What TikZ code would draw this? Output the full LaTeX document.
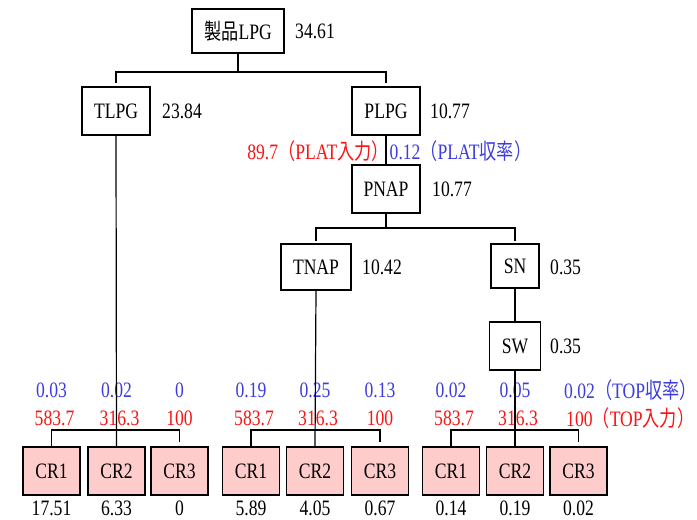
\documentclass[tikz,border=0pt]{standalone}
\usepackage{fontspec}
\setmainfont{Liberation Serif}[FakeStretch=0.8]
\newfontfamily\cjk{Noto Sans CJK JP}[FakeStretch=0.78]
\usetikzlibrary{calc}
\definecolor{myblue}{RGB}{60,60,225}
\definecolor{myred}{RGB}{250,20,20}
\definecolor{pinkfill}{RGB}{255,204,204}
\begin{document}
\begin{tikzpicture}[x=1pt,y=-1pt,font=\fontsize{22}{25}\selectfont,
  box/.style={draw,line width=1.3pt,inner sep=0pt,minimum height=48pt},
  crbox/.style={box,fill=pinkfill,minimum width=57pt},
  val/.style={anchor=west,inner sep=0pt},
  bl/.style={text=myblue,inner sep=0pt},
  rd/.style={text=myred,inner sep=0pt},
  ln/.style={line width=1.2pt}]
\useasboundingbox[fill=white] (0,0) rectangle (697,520);

% upper tree
\node[box,minimum width=92pt,minimum height=44pt] (top) at (238,31) {{\cjk 製品}LPG};
\node[val] (vtop) at (295,31) {34.61};
\node[box,minimum width=68pt] (tlpg) at (116,111) {TLPG};
\node[val] (vtlpg) at (162,111) {23.84};
\node[box,minimum width=68pt] (plpg) at (386,111) {PLPG};
\node[val] (vplpg) at (430,111) {10.77};
\node[box,minimum width=68pt] (pnap) at (386,189) {PNAP};
\node[val] (vpnap) at (432,189) {10.77};
\node[box,minimum width=70pt,minimum height=46pt] (tnap) at (316,267) {TNAP};
\node[val] (vtnap) at (362,267) {10.42};
\node[box,minimum width=48pt,minimum height=44pt] (sn) at (515,266) {SN};
\node[val] (vsn) at (550,267) {0.35};
\node[box,minimum width=51pt] (sw) at (515,346) {SW};
\node[val] (vsw) at (550,346) {0.35};

\node[rd,anchor=east] (platin) at (389,151) {89.7{\cjk （}PLAT{\cjk 入力）}};
\node[bl,anchor=west] (platy) at (389.5,151) {0.12{\cjk （}PLAT{\cjk 収率）}};

\coordinate (j1) at (238,72);
\coordinate (j2) at (386,228);
\draw[ln] (top.south) -- (j1);
\draw[ln] ([yshift=3pt]tlpg.north) |- (j1) -| ([yshift=3pt]plpg.north);
\draw[ln] (plpg.south) -- (pnap.north);
\draw[ln] (pnap.south) -- (j2);
\draw[ln] ([yshift=2pt]tnap.north) |- (j2) -| ([yshift=2pt]sn.north);
\draw[ln] (sn.south) -- (sw.north);

% bottom boxes
\foreach \g/\a/\b/\c in {1/51.5/116.5/179.5, 2/251/315/380, 3/451/515/578.5}{
  \node[crbox] (g\g c1) at (\a,471) {CR1};
  \node[crbox] (g\g c2) at (\b,471) {CR2};
  \node[crbox] (g\g c3) at (\c,471) {CR3};
  \coordinate (b\g) at (\b,430);
  \draw[ln] (g\g c1.north) |- (b\g) -| ([yshift=4pt]g\g c3.north);
}

% bottom values
\foreach \n/\x/\v in {g1c1/51.5/17.51, g1c2/116.5/6.33, g1c3/179.5/0,
                      g2c1/251/5.89, g2c2/315/4.05, g2c3/380/0.67,
                      g3c1/451/0.14, g3c2/515/0.19, g3c3/578.5/0.02}{
  \node[inner sep=0pt] (v\n) at (\x,508) {\v};
}

% yields (blue) and inputs (red)
\foreach \n/\x/\v in {g1c1/51.5/0.03, g1c2/116.5/0.02, g1c3/179.5/0,
                      g2c1/251/0.19, g2c2/315/0.25, g2c3/380/0.13,
                      g3c1/451/0.02, g3c2/515/0.05}{
  \node[bl] (y\n) at (\x,390) {\v};
}
\foreach \n/\x/\v in {g1c1/54.5/583.7, g1c2/119.5/316.3, g1c3/179.5/100,
                      g2c1/254/583.7, g2c2/318/316.3, g2c3/380/100,
                      g3c1/454/583.7, g3c2/518/316.3}{
  \node[rd] (i\n) at (\x,418) {\v};
}
\node[bl,anchor=west] (yg3c3) at (564,390) {0.02{\cjk （}TOP{\cjk 収率）}};
\node[rd,anchor=west] (ig3c3) at (566,418) {100{\cjk （}TOP{\cjk 入力）}};

% vertical trunks drawn over labels
\draw[ln] (tlpg.south) -- (g1c2.north);
\draw[ln] (tnap.south) -- (g2c2.north);
\draw[ln] (sw.south) -- (g3c2.north);
\end{tikzpicture}
\end{document}
